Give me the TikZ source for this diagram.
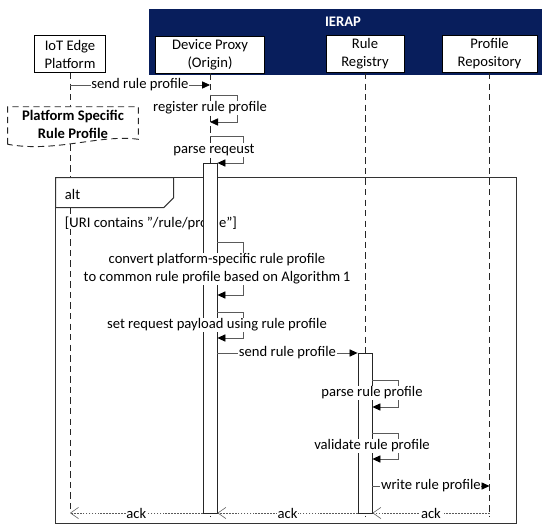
\documentclass[tikz,border=0pt]{standalone}
\usepackage{fontspec}
\setmainfont{Carlito}
\usepackage{xcolor}
\usepackage{tikz}
\usetikzlibrary{arrows.meta, positioning}

\definecolor{ierapblue}{RGB}{8,30,92}
\definecolor{msggray}{RGB}{90,90,90}

\begin{document}
\begin{tikzpicture}[
    x=0.025cm, y=-0.025cm,
    every node/.style={font=\fontsize{10.4}{12.8}\selectfont},
    head/.style={rectangle, draw=black, fill=white, line width=0.7pt, minimum height=0.925cm, align=center, inner sep=1pt},
    groupbox/.style={rectangle, fill=ierapblue, minimum width=9.825cm, minimum height=1.65cm, inner sep=0pt},
    lifeline/.style={draw=black!85, line width=0.65pt, dash pattern=on 4.5pt off 3pt},
    activation/.style={rectangle, draw=black!85, fill=white, line width=0.6pt, minimum width=0.35cm, inner sep=0pt},
    msg/.style={draw=msggray, line width=0.55pt, -{Triangle[length=2mm, width=1.8mm, color=black]}},
    selfmsg/.style={draw=msggray, line width=0.55pt, -{Triangle[length=2mm, width=1.8mm, color=black]}},
    reply/.style={draw=msggray, line width=0.4pt, dash pattern=on 1.2pt off 0.9pt, -{Straight Barb[length=2mm, width=2.8mm]}},
    lbl/.style={fill=white, inner sep=0.5pt, align=center},
    frame/.style={draw=black!80, line width=0.8pt}
]
    \useasboundingbox (0,0) rectangle (550,531);

    % group and lifeline heads
    \node[groupbox] (ierap) at (345.5,42) {};
    \node[text=white, font=\fontsize{10.4}{12.8}\selectfont\bfseries] (ieraplbl) at (343,22) {IERAP};

    \node[head, minimum width=1.75cm] (iot) at (70,54) {IoT Edge\\Platform};
    \node[head, minimum width=2.7cm] (proxy) at (210,54.5) {Device Proxy\\(Origin)};
    \node[head, minimum width=1.95cm] (registry) at (365,54) {Rule\\Registry};
    \node[head, minimum width=2.375cm] (repo) at (489.5,54) {Profile\\Repository};

    % message rows
    \coordinate (y1) at (0,85);
    \coordinate (y2) at (0,95);
    \coordinate (y3) at (0,122);
    \coordinate (y4) at (0,136);
    \coordinate (y5) at (0,163);
    \coordinate (y6) at (0,242);
    \coordinate (y7) at (0,295);
    \coordinate (y8) at (0,312);
    \coordinate (y9) at (0,338);
    \coordinate (y10) at (0,353);
    \coordinate (y11) at (0,380);
    \coordinate (y12) at (0,407);
    \coordinate (y13) at (0,433);
    \coordinate (y14) at (0,459);
    \coordinate (y15) at (0,486);
    \coordinate (y16) at (0,513);
    \coordinate (yend) at (0,517);

    % note on the platform lifeline
    \node[minimum width=3.25cm, minimum height=0.925cm, inner sep=0pt] (spec) at (73,125.5) {};

    % lifelines
    \draw[lifeline] (iot.south) -- (iot |- spec.north);
    \draw[lifeline] (iot |- spec.south) -- (iot |- y16);
    \draw[lifeline] (proxy.south) -- (proxy |- yend);
    \draw[lifeline] (registry.south) -- (registry |- yend);
    \draw[lifeline] (repo.south) -- (repo |- yend);

    \draw[lifeline, fill=white] (spec.south west) -- (spec.north west) -- (spec.north east) -- ([yshift=0.125cm]spec.south east)
        .. controls (100,134) and (55,153) .. (spec.south west);
    \node[font=\fontsize{10.4}{12.8}\selectfont\bfseries, align=center] (spectext) at (73,124.5) {Platform Specific\\Rule Profile};

    % alt frame
    \node[inner sep=0pt, minimum width=11.5cm, minimum height=8.625cm] (alt) at (286,350.5) {};
    \draw[frame] (alt.north west) rectangle (alt.south east);
    \draw[frame, fill=white] (alt.north west) -- ++(118,0) -- ++(0,20) -- ++(-10,10) -- ++(-108,0) -- cycle;
    \node[anchor=west] (altlbl) at (60,194) {alt};
    \node[anchor=west] (guard) at (60,223) {[URI contains \symbol{34}/rule/profile\symbol{34}]};

    % activations
    \node[activation, minimum height=8.75cm] (pact) at (210,338) {};
    \node[activation, minimum height=4cm] (ract) at (365,433) {};

    % Connections
    \draw[msg] (iot |- y1) -- node[lbl] (m1) {send rule profile} (proxy |- y1);
    \draw[selfmsg] (proxy |- y2) -- ++(27,0) |- (proxy |- y3);
    \node[lbl] (m2) at (210,108) {register rule profile};
    \draw[selfmsg] (proxy |- y4) -- ++(33,0) |- (pact.east |- y5);
    \node[lbl] (m3) at (214,150) {parse reqeust};

    \draw[selfmsg] (pact.east |- y6) -- ++(26,0) |- (pact.east |- y7);
    \node[lbl] (m4) at (217,269) {convert platform-specific rule profile\\to common rule profile based on Algorithm\,1};
    \draw[selfmsg] (pact.east |- y8) -- ++(26,0) |- (pact.east |- y9);
    \node[lbl] (m5) at (217,325) {set request payload using rule profile};
    \draw[msg] (pact.east |- y10) -- node[lbl] (m6) {send rule profile} (ract.west |- y10);

    \draw[selfmsg] (ract.east |- y11) -- ++(26,0) |- (ract.east |- y12);
    \node[lbl] (m7) at (372,393) {parse rule profile};
    \draw[selfmsg] (ract.east |- y13) -- ++(26,0) |- (ract.east |- y14);
    \node[lbl] (m8) at (372,446) {validate rule profile};
    \draw[msg] (ract.east |- y15) -- node[lbl] (m9) {write rule profile} (repo |- y15);

    \draw[reply] (repo |- y16) -- node[lbl] (r1) {ack} (ract.east |- y16);
    \draw[reply] (ract.west |- y16) -- node[lbl] (r2) {ack} (pact.east |- y16);
    \draw[reply] (pact.west |- y16) -- node[lbl] (r3) {ack} (iot |- y16);
\end{tikzpicture}
\end{document}
